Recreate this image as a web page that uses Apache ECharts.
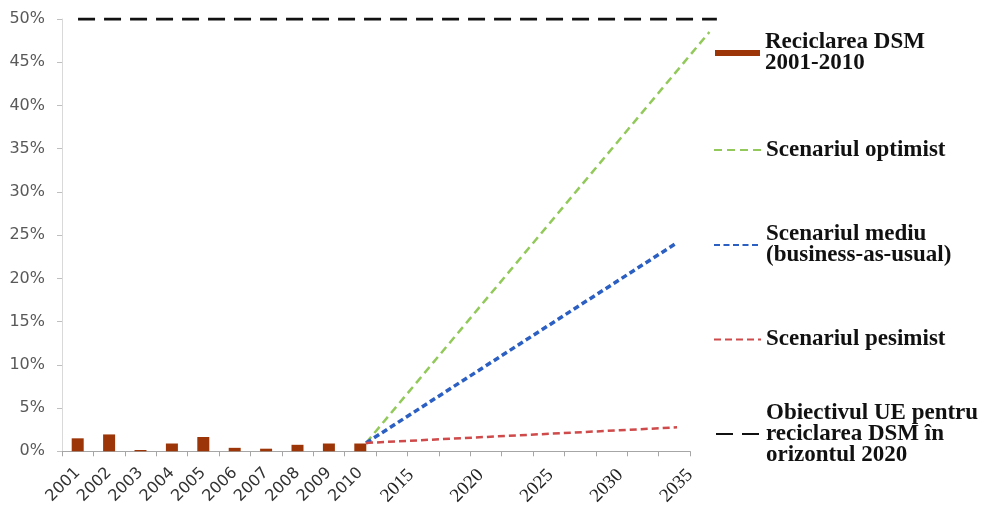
<!DOCTYPE html>
<html>
<head>
<meta charset="utf-8">
<script src="https://cdn.jsdelivr.net/npm/echarts@6.0.0/dist/echarts.min.js"></script>
<style>
html,body{margin:0;padding:0;background:#fff;}
#chart{width:986px;height:508px;}
</style>
</head>
<body>
<div id="chart"></div>
<script>
// ---- data ----
const barYears = ['2001','2002','2003','2004','2005','2006','2007','2008','2009','2010'];
const barValues = [1.5, 1.95, 0.15, 0.9, 1.65, 0.4, 0.3, 0.75, 0.9, 0.9];
const extraSlots = 10; // empty category slots after 2010
const futureTicks = [2015, 2020, 2025, 2030, 2035];

const optimistData = [[2010, 1.1], [2037.6, 48.5]];
const medianData   = [[2010, 1.1], [2035, 24.2]];
const pessimistData= [[2010, 1.1], [2035, 2.9]];
const targetData   = [[1986.85, 50], [2038.2, 50]];

const yTicks = { min: 0, max: 50, step: 5 };

const names = {
  bar: 'Reciclarea DSM\n2001-2010',
  opt: 'Scenariul optimist',
  med: 'Scenariul mediu\n(business-as-usual)',
  pes: 'Scenariul pesimist',
  tgt: 'Obiectivul UE pentru\nreciclarea DSM în\norizontul 2020'
};

const categories = barYears.concat(new Array(extraSlots).fill(''));

const legendText = {
  fontFamily: 'Liberation Serif', fontWeight: 'bold', fontSize: 23,
  lineHeight: 21, color: '#111'
};
function legend(name, left, top, w, h, icon) {
  const l = { data: [{ name: name, icon: icon }], left: left, top: top, orient: 'vertical', padding: 0,
    itemWidth: w, itemHeight: h, textStyle: legendText };
  if (!icon) { l.data = [name]; l.itemStyle = { opacity: 0 }; }
  return l;
}

const chart = echarts.init(document.getElementById('chart'));
chart.setOption({
  animation: false,
  backgroundColor: '#fff',
  grid: [
    { left: 62, right: 296, top: 19, bottom: 55.5, containLabel: false },
    { left: 62, width: 655, top: 19, bottom: 55.5, containLabel: false }
  ],
  legend: [
    legend(names.bar, 715, 31, 45, 6, 'rect'),
    legend(names.opt, 713, 138.5, 47, 3),
    legend(names.med, 713, 223, 47, 3),
    legend(names.pes, 713, 328, 47, 3),
    legend(names.tgt, 715, 401.5, 45, 3)
  ],
  xAxis: [
    {
      type: 'category', data: categories, position: 'bottom', gridIndex: 0,
      boundaryGap: true,
      axisLine: { lineStyle: { color: '#a6a6a6', width: 1 } },
      axisTick: { show: true, interval: 0, length: 5, lineStyle: { color: '#a6a6a6' } },
      axisLabel: { interval: 0, rotate: 45, margin: 19, fontSize: 16,
        fontFamily: 'DejaVu Sans', color: '#333' },
      splitLine: { show: false }
    },
    {
      type: 'value', position: 'bottom', gridIndex: 0, offset: 0, min: 1990, max: 2035, interval: 5,
      axisLine: { show: false }, axisTick: { show: false }, splitLine: { show: false },
      axisLabel: { rotate: 45, margin: 21, fontSize: 19, fontFamily: 'Liberation Serif',
        color: '#222', showMinLabel: false,
        formatter: v => futureTicks.indexOf(v) >= 0 ? String(v) : '' }
    },
    {
      type: 'value', show: false, gridIndex: 1, position: 'bottom', min: 1985.56, max: 2038.21
    }
  ],
  yAxis: [
    {
      type: 'value', gridIndex: 0, min: yTicks.min, max: yTicks.max, interval: yTicks.step,
      axisLine: { show: true, lineStyle: { color: '#d9d9d9' } },
      axisTick: { show: true, length: 5, lineStyle: { color: '#bfbfbf' } },
      splitLine: { show: false },
      axisLabel: { formatter: '{value}%', fontSize: 16, fontFamily: 'DejaVu Sans',
        color: '#595959', margin: 17 }
    },
    { type: 'value', gridIndex: 1, show: false, min: yTicks.min, max: yTicks.max }
  ],
  series: [
    {
      name: names.bar, type: 'bar', xAxisIndex: 0, yAxisIndex: 0, data: barValues, barWidth: 12,
      itemStyle: { color: '#9c3608' }, z: 3
    },
    {
      name: names.opt, type: 'line', xAxisIndex: 2, yAxisIndex: 1, data: optimistData,
      symbol: 'none',
      lineStyle: { color: '#92c95a', width: 2.5, type: [8, 5] }
    },
    {
      name: names.med, type: 'line', xAxisIndex: 2, yAxisIndex: 1, data: medianData,
      symbol: 'none',
      lineStyle: { color: '#2c5fc2', width: 3.5, type: [6, 3.5] }
    },
    {
      name: names.pes, type: 'line', xAxisIndex: 2, yAxisIndex: 1, data: pessimistData,
      symbol: 'none',
      lineStyle: { color: '#cf4a4a', width: 2.5, type: [7, 4] }
    },
    {
      name: names.tgt, type: 'line', xAxisIndex: 2, yAxisIndex: 1, data: targetData,
      symbol: 'none',
      lineStyle: { color: '#111', width: 3, type: [17, 9] }
    }
  ]
});
</script>
</body>
</html>
